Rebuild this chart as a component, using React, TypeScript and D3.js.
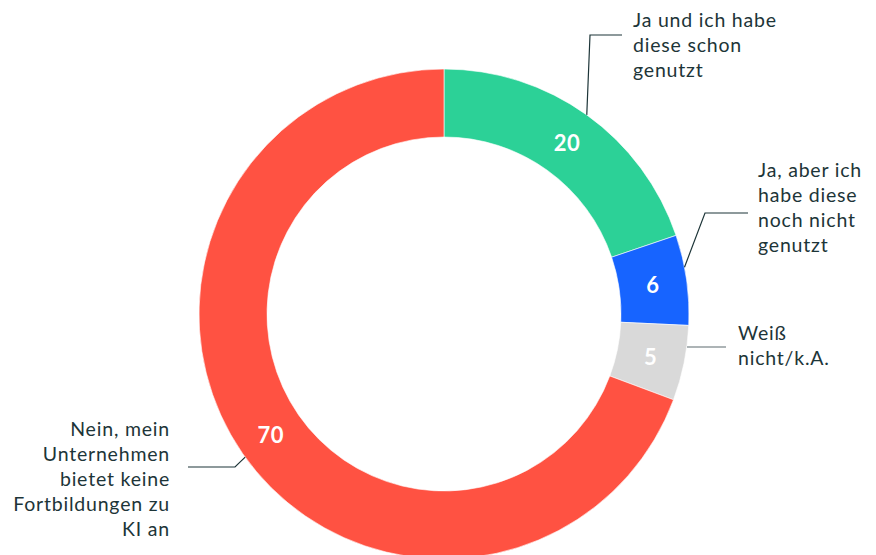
import React from "react";
import * as d3 from "d3";

const categories = [
  "Ja und ich habe diese schon genutzt",
  "Ja, aber ich habe diese noch nicht genutzt",
  "Weiß nicht/k.A.",
  "Nein, mein Unternehmen bietet keine Fortbildungen zu KI an",
];
const values = [20, 6, 5, 70];
const colors = ["#2CD197", "#1764FF", "#D9D9D9", "#FF5242"];
const labelLines = [
  ["Ja und ich habe", "diese schon", "genutzt"],
  ["Ja, aber ich", "habe diese", "noch nicht", "genutzt"],
  ["Weiß", "nicht/k.A."],
  ["Nein, mein", "Unternehmen", "bietet keine", "Fortbildungen zu", "KI an"],
];

// layout (not data)
const W = 876, H = 555;
const cx = 444, cy = 314, R = 245, r0 = 177;
const layout = [
  { elbow: [590, 35], end: [622, 35], tx: 633, ty: 27, anchor: "start", startAngleOffset: 0 },
  { elbow: [705, 213], end: [748, 213], tx: 758, ty: 177, anchor: "start", startAngleOffset: -3 },
  { elbow: null, end: [726, 347], tx: 738, ty: 340, anchor: "start", startAngleOffset: -3.8 },
  { elbow: [235, 467], end: [188, 467], tx: 170, ty: 436, anchor: "end", startAngleOffset: -1 },
];
const lineH = 25;
const font = "Lato, 'Noto Sans', sans-serif";

export default function App() {
  const pie = d3.pie<number>().sort(null).value((d) => d)(values);
  const arc = d3.arc<d3.PieArcDatum<number>>().innerRadius(r0).outerRadius(R);
  return (
    <svg width={W} height={H} style={{ position: "absolute", left: 0, top: 0, background: "#fff" }}>
      <g transform={`translate(${cx},${cy})`}>
        {pie.map((p, i) => (
          <path key={i} d={arc(p) || ""} fill={colors[i]} stroke="#fff" strokeWidth={0.6} />
        ))}
        {pie.map((p, i) => {
          const [x, y] = arc.centroid(p);
          return (
            <text key={"v" + i} x={x} y={y} textAnchor="middle" dominantBaseline="central"
              fill="#fff" fontFamily={font} fontWeight={700} fontSize={22} letterSpacing={0.5}>
              {values[i]}
            </text>
          );
        })}
      </g>
      {pie.map((p, i) => {
        const L = layout[i];
        const mid = (p.startAngle + p.endAngle) / 2 + (L.startAngleOffset * Math.PI) / 180;
        const sx = cx + Math.sin(mid) * R;
        const sy = cy - Math.cos(mid) * R;
        const pts = L.elbow
          ? [[sx, sy], L.elbow, L.end]
          : [[L.end[0] - 39, L.end[1]], L.end];
        return (
          <g key={"l" + i}>
            <polyline points={pts.map((q) => q.join(",")).join(" ")} fill="none"
              stroke={i === 2 ? "#5d6b6e" : "#1d3538"} strokeWidth={1.2} />
            <text x={L.tx} y={L.ty} textAnchor={L.anchor as any} fill="#1d3538"
              fontFamily={font} fontSize={19.5} letterSpacing={0.8}>
              {labelLines[i].map((t, j) => (
                <tspan key={j} x={L.tx} y={L.ty + j * lineH}>{t}</tspan>
              ))}
            </text>
          </g>
        );
      })}
      <title>{categories.join(" | ")}</title>
    </svg>
  );
}
